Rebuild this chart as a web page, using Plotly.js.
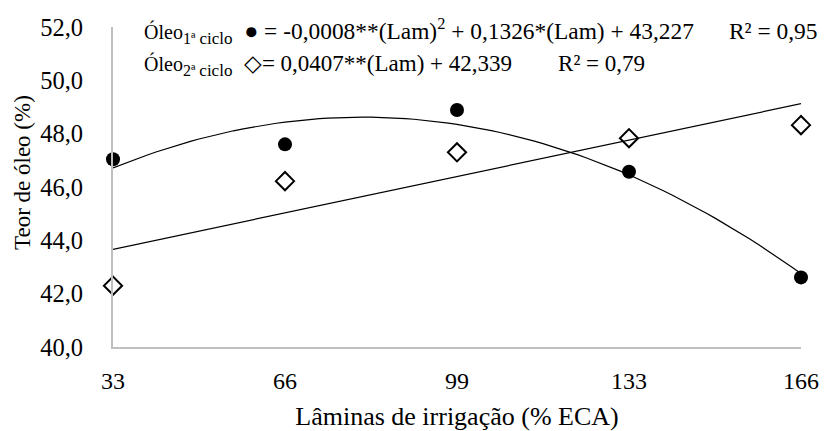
<!DOCTYPE html>
<html>
<head>
<meta charset="utf-8">
<script src="https://cdn.plot.ly/plotly-3.0.1.min.js"></script>
<style>
  html, body { margin: 0; padding: 0; background: #fff; }
  #chart { width: 829px; height: 431px; }
</style>
</head>
<body>
<div id="chart"></div>
<script>
// Irrigation depths (% ECA) – category labels on the x axis
const lamLabels = ['33', '66', '99', '133', '166'];
// Oil content (%) – 1st cycle (filled circles)
const oleo1 = [47.04, 47.60, 48.89, 46.57, 42.61];
// Oil content (%) – 2nd cycle (open diamonds)
const oleo2 = [42.30, 46.22, 47.30, 47.83, 48.32];
// Equation / legend texts
const NB = '\u00A0';
const eq1Text = '<span style="font-size:20px">Óleo</span><sub><span style="font-size:16px">1ª</span> <span style="font-size:17px">ciclo</span></sub>' + NB + NB +
  '● = -0,0008**(Lam)<sup>2</sup> + 0,1326*(Lam) + 43,227' + NB.repeat(6) + 'R² = 0,95';
const eq2Text = '<span style="font-size:20px">Óleo</span><sub><span style="font-size:16px">2ª</span> <span style="font-size:17px">ciclo</span></sub>' + NB + NB +
  '◇= 0,0407**(Lam) + 42,339' + NB.repeat(8) + 'R² = 0,79';
const xTitle = 'Lâminas de irrigação (% ECA)';
const yTitle = 'Teor de óleo (%)';

// positions on the category axis
const xs = lamLabels.map((_, i) => i);

// least-squares polynomial fit (Excel-style trendline over category positions)
function polyfit(x, y, deg) {
  const n = deg + 1;
  const A = [];
  for (let r = 0; r < n; r++) {
    A.push([]);
    for (let c = 0; c < n; c++) {
      let s = 0; for (let k = 0; k < x.length; k++) s += Math.pow(x[k], r + c);
      A[r].push(s);
    }
    let s = 0; for (let k = 0; k < x.length; k++) s += y[k] * Math.pow(x[k], r);
    A[r].push(s);
  }
  for (let i = 0; i < n; i++) {
    let p = i;
    for (let j = i + 1; j < n; j++) if (Math.abs(A[j][i]) > Math.abs(A[p][i])) p = j;
    [A[i], A[p]] = [A[p], A[i]];
    for (let j = 0; j < n; j++) {
      if (j === i) continue;
      const f = A[j][i] / A[i][i];
      for (let c = i; c <= n; c++) A[j][c] -= f * A[i][c];
    }
  }
  return A.map((row, i) => row[n] / row[i]);
}
function evalFit(coef, x) { return coef.reduce((s, c, i) => s + c * Math.pow(x, i), 0); }

const c1 = polyfit(xs, oleo1, 2);
const c2 = polyfit(xs, oleo2, 1);
const fx = [];
for (let t = 0; t <= 4.0001; t += 0.05) fx.push(t);
const f1 = fx.map(t => evalFit(c1, t));
const f2 = fx.map(t => evalFit(c2, t));

const FONT = "'Liberation Serif', 'Times New Roman', Times, serif";

const traces = [
  { x: fx, y: f1, mode: 'lines', line: { color: '#000', width: 1.2 }, hoverinfo: 'skip', cliponaxis: false },
  { x: fx, y: f2, mode: 'lines', line: { color: '#000', width: 1.2 }, hoverinfo: 'skip', cliponaxis: false },
  { x: xs, y: oleo1, mode: 'markers', cliponaxis: false,
    marker: { symbol: 'circle', size: 14, color: '#000', line: { width: 0 } } },
  { x: xs, y: oleo2, mode: 'markers', cliponaxis: false,
    marker: { symbol: 'diamond-open', size: 14, color: '#000', line: { width: 2, color: '#000' } } }
];

const layout = {
  width: 829, height: 431,
  margin: { l: 113, r: 28, t: 27, b: 84 },
  paper_bgcolor: '#fff', plot_bgcolor: '#fff',
  showlegend: false,
  separators: ',.',
  font: { family: FONT, color: '#000', size: 23 },
  xaxis: {
    range: [0, 4], tickvals: xs, ticktext: lamLabels,
    showgrid: false, zeroline: false,
    showline: true, linecolor: '#bfbfbf', linewidth: 2,
    ticks: '', ticklabelstandoff: 11,
    tickfont: { family: FONT, size: 24, color: '#000' },
    title: { text: xTitle, font: { family: FONT, size: 26, color: '#000' }, standoff: 24 }
  },
  yaxis: {
    range: [40, 52], dtick: 2, tick0: 40, tickformat: '.1f',
    showgrid: false, zeroline: false,
    showline: true, linecolor: '#bfbfbf', linewidth: 2,
    ticks: '', ticklabelstandoff: 23,
    tickfont: { family: FONT, size: 24.5, color: '#000' }
  },
  annotations: [
    { xref: 'paper', yref: 'paper', x: (22 - 113) / 688, y: (347 - 172) / 320,
      text: yTitle, textangle: -90, showarrow: false,
      font: { family: FONT, size: 23, color: '#000' }, xanchor: 'center', yanchor: 'middle' },
    { xref: 'paper', yref: 'paper', x: (142 - 113) / 688, y: (347 - 31) / 320,
      text: eq1Text, showarrow: false, xanchor: 'left', yanchor: 'middle',
      font: { family: FONT, size: 23.4, color: '#000' } },
    { xref: 'paper', yref: 'paper', x: (142 - 113) / 688, y: (347 - 65) / 320,
      text: eq2Text, showarrow: false, xanchor: 'left', yanchor: 'middle',
      font: { family: FONT, size: 23, color: '#000' } }
  ]
};

Plotly.newPlot('chart', traces, layout, { displayModeBar: false, staticPlot: true });
</script>
</body>
</html>
